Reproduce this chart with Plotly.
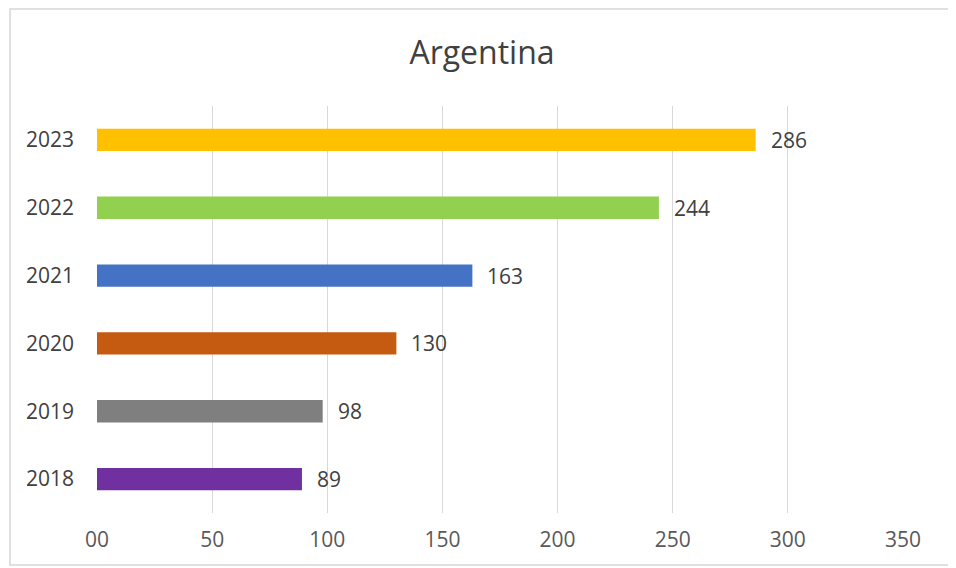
import plotly.graph_objects as go

years = ["2018", "2019", "2020", "2021", "2022", "2023"]
values = [89, 98, 130, 163, 244, 286]
colors = ["#7030A0", "#7F7F7F", "#C55A11", "#4472C4", "#92D050", "#FFC000"]
x_tickvals = [0, 50, 100, 150, 200, 250, 300, 350]
x_ticktext = ["00", "50", "100", "150", "200", "250", "300", "350"]

FONT = "'Liberation Sans Narrow', 'Open Sans', sans-serif"

fig = go.Figure()
fig.add_trace(go.Bar(
    x=values, y=years, orientation="h",
    marker=dict(color=colors, line=dict(width=0)),
    width=0.33, hoverinfo="x+y",
))

for i, v in enumerate(values):
    fig.add_annotation(x=v, y=i, text=str(v), showarrow=False,
                       xanchor="left", xshift=13,
                       font=dict(family=FONT, size=21, color="#404040"))

# page has an 8px body margin, so figure coordinates = page coordinates - 8
W, H = 948, 560
ml, mt = 89, 98
pw, ph = 806, 407
mr, mb = W - ml - pw, H - mt - ph
# outer light border
fig.add_shape(type="rect", xref="paper", yref="paper",
              x0=(2 - ml) / pw, x1=(942 - ml) / pw,
              y0=1 - (557 - mt) / ph, y1=1 - (1 - mt) / ph,
              line=dict(color="#D6D6D6", width=1.5), layer="below")

fig.update_layout(
    width=W, height=H,
    margin=dict(l=ml, r=mr, t=mt, b=mb, autoexpand=False),
    paper_bgcolor="white", plot_bgcolor="white",
    title=dict(text="Argentina", x=0.5, xanchor="center", y=1 - 45 / H, yanchor="middle",
               font=dict(family=FONT, size=32, color="#404040")),
    showlegend=False,
    bargap=0.67,
    xaxis=dict(range=[0, 350], tickvals=x_tickvals, ticktext=x_ticktext,
               showgrid=True, gridcolor="#D9D9D9", gridwidth=1,
               zeroline=False, showline=False, ticks="", automargin=False,
               tickfont=dict(family=FONT, size=21, color="#595959"),
               ticklabelstandoff=12),
    yaxis=dict(type="category", categoryorder="array", categoryarray=years,
               range=[-0.5, 5.5], automargin=False,
               showgrid=False, zeroline=False, showline=False, ticks="",
               tickfont=dict(family=FONT, size=21, color="#404040"),
               ticklabelstandoff=22),
)

fig.write_html("out.html")
